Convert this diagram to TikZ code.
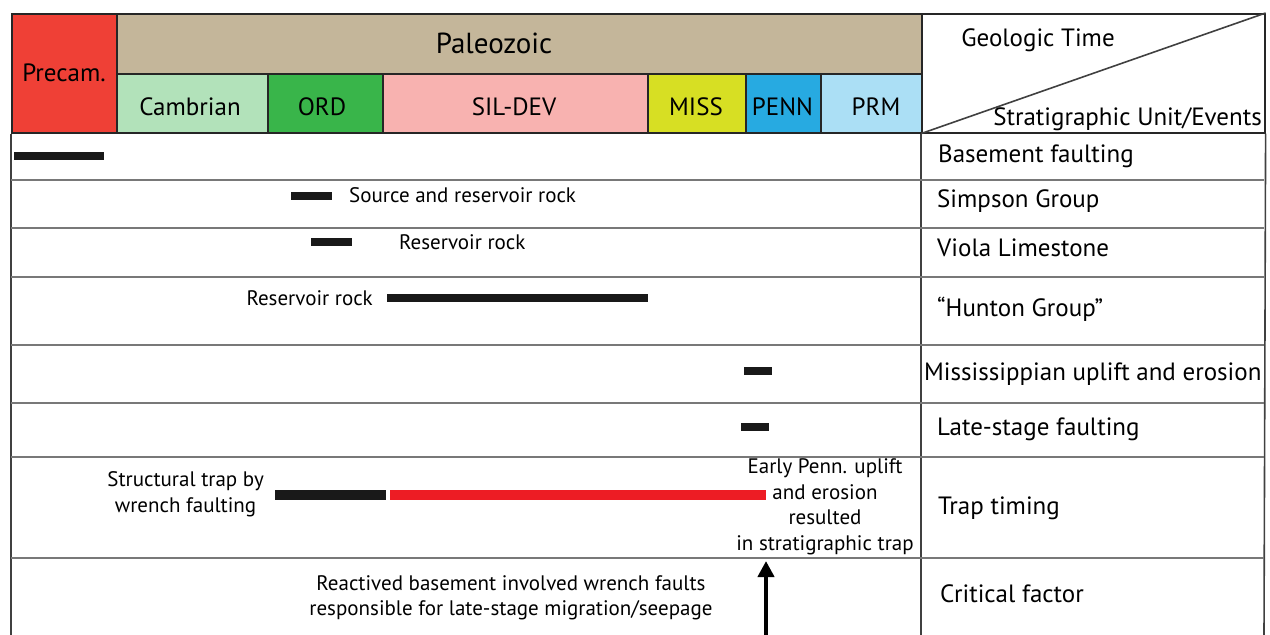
\documentclass[tikz,border=0pt]{standalone}
\usepackage{fontspec}
\setmainfont{PT Sans}
\usetikzlibrary{arrows.meta}
\definecolor{precam}{RGB}{239,64,54}
\definecolor{paleo}{RGB}{196,182,154}
\definecolor{camb}{RGB}{178,226,186}
\definecolor{ord}{RGB}{57,181,74}
\definecolor{sildev}{RGB}{248,178,176}
\definecolor{miss}{RGB}{215,223,35}
\definecolor{penn}{RGB}{39,170,225}
\definecolor{prm}{RGB}{171,223,245}
\definecolor{redbar}{RGB}{237,28,36}
\definecolor{rowline}{RGB}{120,120,120}
\tikzset{
  cell/.style={draw=black!85, line width=1.6, inner sep=0, anchor=north west},
  hdr/.style={font=\fontsize{25}{30}\selectfont, inner sep=0},
  big/.style={font=\fontsize{29}{34}\selectfont, inner sep=0},
  evt/.style={font=\fontsize{25}{30}\selectfont, inner sep=0, anchor=west},
  note/.style={font=\fontsize{21}{25.5}\selectfont, inner sep=0},
  bar/.style={line width=8, black!90},
  rbar/.style={line width=10, redbar},
  rowsep/.style={rowline, line width=2},
  frame/.style={black!75, line width=1.6},
}
\begin{document}
\begin{tikzpicture}[x=1pt,y=-1pt]
\useasboundingbox (0,0) rectangle (1270,635);
% header cells
\node[cell, fill=precam, minimum width=105, minimum height=119] (precam) at (11,13) {};
\node[hdr] (precamt) at (64,73) {Precam.};
\node[cell, fill=paleo, minimum width=805, minimum height=60] (paleo) at (116,13) {};
\node[big] (paleot) at (494,43) {Paleozoic};
\node[cell, fill=camb, minimum width=151, minimum height=59] (camb) at (116,73) {};
\node[hdr] (cambt) at (190,107) {Cambrian};
\node[cell, fill=ord, minimum width=115, minimum height=59] (ord) at (267,73) {};
\node[hdr] (ordt) at (322,107) {ORD};
\node[cell, fill=sildev, minimum width=265, minimum height=59] (sildev) at (382,73) {};
\node[hdr] (sildevt) at (514,107) {SIL-DEV};
\node[cell, fill=miss, minimum width=98, minimum height=59] (miss) at (647,73) {};
\node[hdr] (misst) at (696,107) {MISS};
\node[cell, fill=penn, minimum width=75, minimum height=59] (penn) at (745,73) {};
\node[hdr] (pennt) at (782.5,107) {PENN};
\node[cell, fill=prm, minimum width=101, minimum height=59] (prm) at (820,73) {};
\node[hdr] (prmt) at (876,107) {PRM};
% corner cell
\node[cell, minimum width=343, minimum height=119] (corner) at (921,13) {};
\draw[frame] (corner.south west) -- (corner.north east);
\node[hdr] (geo) at (1038,40) {Geologic Time};
\node[hdr, anchor=east] (strat) at (1262,119) {Stratigraphic Unit/Events};
% frame and rows
\coordinate (bl) at (11,635);
\coordinate (br) at (1264,635);
\coordinate (bm) at (921,635);
\draw[frame] (precam.south west) -- (bl);
\draw[frame] (corner.south east) -- (br);
\draw[frame] (corner.south west) -- (bm);
\foreach \y in {180,228,277,345,403,457,558}{
  \draw[rowsep] (11,\y) -- (1264,\y);
}
% event labels
\node[evt] (e1) at (938,156) {Basement faulting};
\node[evt] (e2) at (937,201) {Simpson Group};
\node[evt] (e3) at (937,248) {Viola Limestone};
\node[evt] (e4) at (937,309) {“Hunton Group”};
\node[evt] (e5) at (924,374) {Mississippian uplift and erosion};
\node[evt] (e6) at (937,429) {Late-stage faulting};
\node[evt] (e7) at (938,508) {Trap timing};
\node[evt] (e8) at (940,594) {Critical factor};
% bars
\draw[bar] (14,156) -- (104,156);
\draw[bar] (291,196) -- (332,196);
\node[note, anchor=west] (n1) at (349,195) {Source and reservoir rock};
\draw[bar] (311,242) -- (352,242);
\node[note, anchor=west] (n2) at (399,242) {Reservoir rock};
\node[note, anchor=east] (n3) at (373,298) {Reservoir rock};
\draw[bar] (387,298) -- (648,298);
\draw[bar] (744,371) -- (772,371);
\draw[bar] (741,427) -- (769,427);
\node[note, anchor=east, align=center] (n4) at (264,494) {Structural trap by\\wrench faulting};
\draw[rbar, black!90] (275,495) -- (386,495);
\draw[rbar] (390,495) -- (766,495);
\node[note, align=center] (n5) at (825,507) {Early Penn. uplift\\and erosion\\resulted\\in stratigraphic trap};
\node[note, align=center] (n6) at (511,598) {Reactived basement involved wrench faults\\responsible for late-stage migration/seepage};
% arrow
\coordinate (afoot) at (766,640);
\coordinate (atip) at (766,561);
\draw[line width=4, -{Triangle[length=16,width=16]}] (afoot) -- (atip);
\end{tikzpicture}
\end{document}
